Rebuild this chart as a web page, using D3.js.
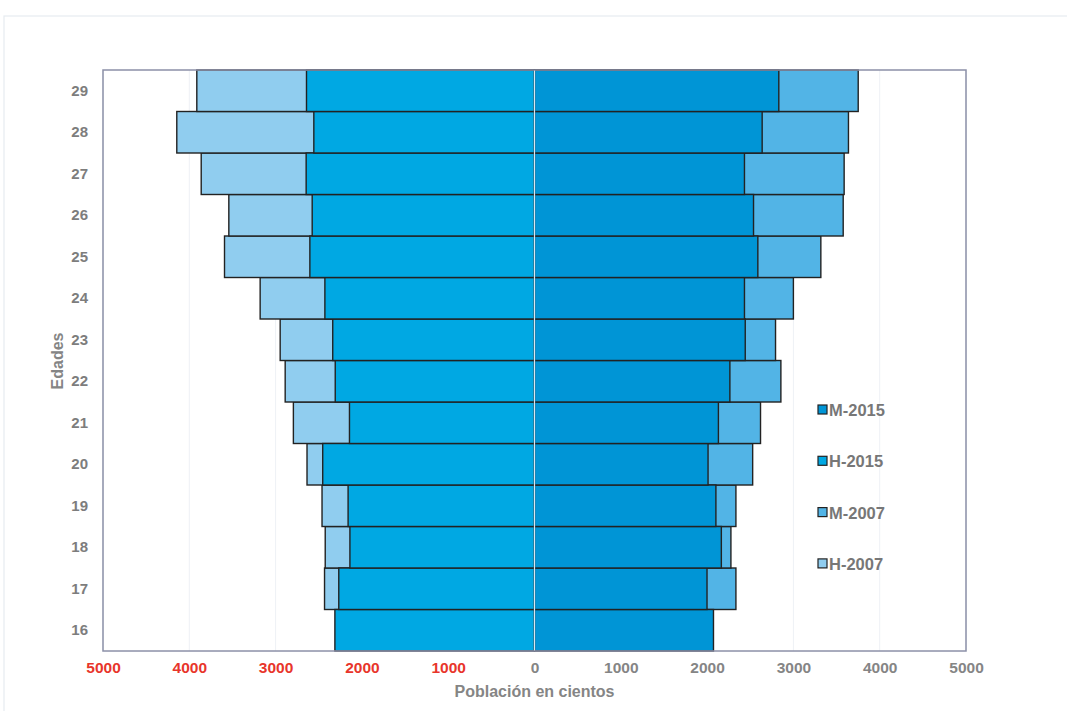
<!DOCTYPE html>
<html><head><meta charset="utf-8">
<script src="https://cdn.jsdelivr.net/npm/d3@7"></script>
<style>
body{margin:0;background:#fff;}
text{font-family:"Liberation Sans",Arial,sans-serif;font-weight:bold;}
</style></head>
<body>
<svg id="chart" width="1067" height="711"></svg>
<script>
const ages = [16,17,18,19,20,21,22,23,24,25,26,27,28,29];
const h2015 = [2313,2268,2139,2160,2454,2144,2309,2338,2429,2603,2576,2646,2557,2642];
const m2015 = [2074,1999,2165,2102,2011,2131,2264,2442,2433,2588,2538,2433,2638,2831];
const h2007 = [null,2433,2425,2462,2636,2794,2889,2947,3179,3592,3542,3862,4145,3913];
const m2007 = [null,2334,2276,2334,2528,2619,2855,2793,3000,3318,3577,3588,3638,3751];
const xTicks = [-5000,-4000,-3000,-2000,-1000,0,1000,2000,3000,4000,5000];
const legendLabels = ["M-2015","H-2015","M-2007","H-2007"];

const colors = {h2015:"#00a8e3", m2015:"#0095d6", m2007:"#52b4e6", h2007:"#90cdef"};

const svg = d3.select("#chart");
const L=103, R=966, T=70, B=651;

// faint page frame
svg.append("rect").attr("x",4).attr("y",16).attr("width",1080).attr("height",700)
  .attr("fill","none").attr("stroke","#e6ebf0").attr("stroke-width",1.2);

const x = d3.scaleLinear().domain([-5000,5000]).range([L,R]);
const y = d3.scaleBand().domain(ages.slice().reverse()).range([T,B]).padding(0);

// gridlines
svg.append("g").selectAll("line").data(xTicks).join("line")
  .attr("x1",d=>x(d)).attr("x2",d=>x(d)).attr("y1",T).attr("y2",B)
  .attr("stroke","#eef1f5").attr("stroke-width",1);

const rows = ages.map((a,i)=>({a,h15:h2015[i],m15:m2015[i],h07:h2007[i],m07:m2007[i]}));
const bar = (sel, key, sign, col) => sel.append("g").selectAll("rect")
  .data(rows.filter(d=>d[key]!=null)).join("rect")
  .attr("x",d=> sign<0 ? x(-d[key]) : x(0))
  .attr("width",d=> Math.abs(x(sign*d[key])-x(0)))
  .attr("y",d=>y(d.a)).attr("height",y.bandwidth())
  .attr("fill",col).attr("stroke","#222").attr("stroke-width",1.4);

bar(svg,"h07",-1,colors.h2007);
bar(svg,"m07",1,colors.m2007);
bar(svg,"h15",-1,colors.h2015);
bar(svg,"m15",1,colors.m2015);

// center line
svg.append("line").attr("x1",x(0)).attr("x2",x(0)).attr("y1",T).attr("y2",B)
  .attr("stroke","#d9e6f0").attr("stroke-width",1.2);

// frame
svg.append("rect").attr("x",L).attr("y",T).attr("width",R-L).attr("height",B-T)
  .attr("fill","none").attr("stroke","#8c90a8").attr("stroke-width",1.5);

// x axis labels
const xAxis = svg.append("g").attr("transform",`translate(0,${B})`)
  .call(d3.axisBottom(x).tickValues(xTicks).tickSize(0).tickPadding(11).tickFormat(d=>Math.abs(d)));
xAxis.select(".domain").remove();
xAxis.selectAll("text").attr("font-size",15.5).attr("font-family","Liberation Sans, Arial, sans-serif")
  .attr("font-weight","bold").attr("fill",d=>d<0?"#e8352b":"#858585");

// y axis labels
const yAxis = svg.append("g").attr("transform",`translate(${L},0)`)
  .call(d3.axisLeft(y).tickSize(0).tickPadding(15));
yAxis.select(".domain").remove();
yAxis.selectAll("text").attr("font-size",15).attr("font-family","Liberation Sans, Arial, sans-serif")
  .attr("font-weight","bold").attr("fill","#7d7d7d");

svg.append("text").attr("x",x(0)).attr("y",697).attr("text-anchor","middle")
  .attr("font-size",16).attr("fill","#858585").text("Población en cientos");
svg.append("text").attr("transform","translate(63,361) rotate(-90)").attr("text-anchor","middle")
  .attr("font-size",16).attr("fill","#858585").text("Edades");

// legend
const legCols = [colors.m2015,colors.h2015,colors.m2007,colors.h2007];
const lg = svg.append("g").selectAll("g").data(legendLabels).join("g")
  .attr("transform",(d,i)=>`translate(818,${410+i*51.3})`);
lg.append("rect").attr("x",0).attr("y",-5).attr("width",9).attr("height",9)
  .attr("fill",(d,i)=>legCols[i]).attr("stroke","#222").attr("stroke-width",1.2);
lg.append("text").attr("x",11).attr("y",6).attr("font-size",16.5).attr("fill","#777").text(d=>d);
</script>
</body></html>
